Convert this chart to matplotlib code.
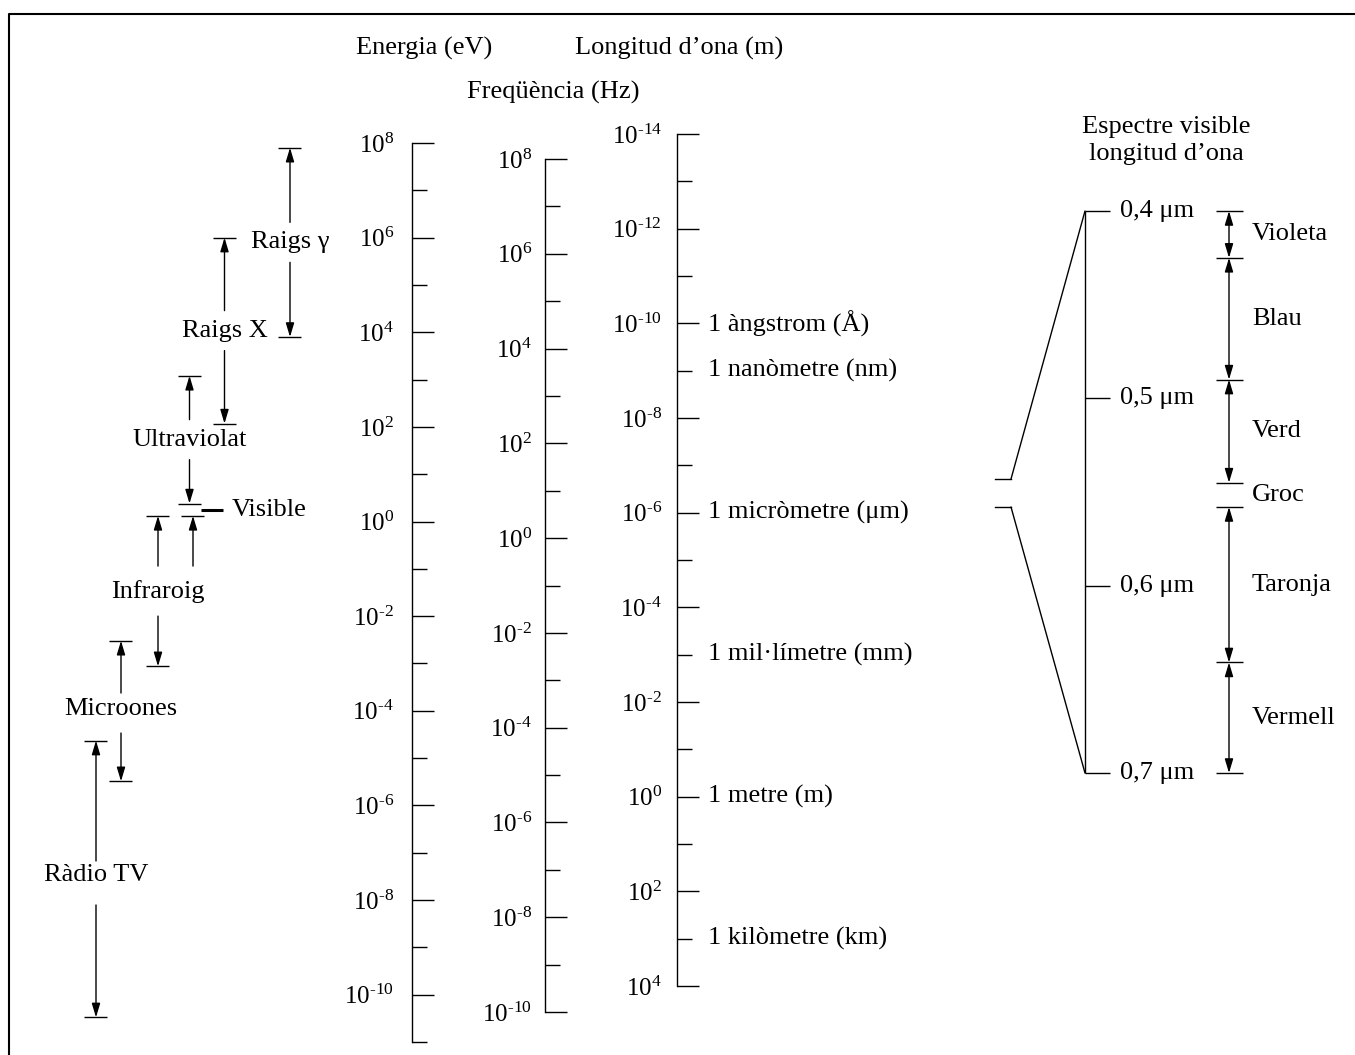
import matplotlib
matplotlib.use("Agg")
import numpy as np
import matplotlib.pyplot as plt
from matplotlib.patches import ConnectionPatch
from matplotlib.ticker import FixedLocator, FuncFormatter, NullFormatter

plt.rcParams["font.family"] = ["Liberation Serif", "DejaVu Serif"]
plt.rcParams["mathtext.fontset"] = "custom"
plt.rcParams["mathtext.rm"] = "Liberation Serif"
plt.rcParams["mathtext.it"] = "Liberation Serif:italic"
plt.rcParams["mathtext.bf"] = "Liberation Serif:bold"

# scales, as exponents of 10
energy_major = [8, 6, 4, 2, 0, -2, -4, -6, -8, -10]
energy_minor = [7, 5, 3, 1, -1, -3, -5, -7, -9, -11]
freq_major = [8, 6, 4, 2, 0, -2, -4, -6, -8, -10]
freq_minor = [7, 5, 3, 1, -1, -3, -5, -7, -9]
wave_major = [-14, -12, -10, -8, -6, -4, -2, 0, 2, 4]
wave_minor = [-13, -11, -9, -7, -5, -3, -1, 1, 3]

unit_names = ["1 àngstrom (Å)", "1 nanòmetre (nm)", "1 micròmetre (μm)",
              "1 mil·límetre (mm)", "1 metre (m)", "1 kilòmetre (km)"]
unit_exp = [-10, -9, -6, -3, 0, 3]

# regions of the spectrum, log10(energia / eV)
band_names = ["Raigs γ", "Raigs X", "Ultraviolat", "Infraroig", "Microones", "Ràdio TV"]
band_hi = [7.9, 6.0, 3.08, 0.12, -2.52, -4.63]
band_lo = [3.9, 2.07, 0.38, -3.06, -5.49, -10.48]
visible_hi = 0.38
visible_lo = 0.12

# visible spectrum, longitud d'ona in um
vis_ticks = [0.4, 0.5, 0.6, 0.7]
vis_labels = ["0,4 μm", "0,5 μm", "0,6 μm", "0,7 μm"]
colour_names = ["Violeta", "Blau", "Verd", "Groc", "Taronja", "Vermell"]
colour_edges = [0.40, 0.425, 0.49, 0.545, 0.558, 0.641, 0.70]

# layout, in pixels of the 1355x1055 picture
W, H = 1355, 1055
band_x = [290, 224.5, 189.5, 158, 121, 96]
band_gap = [20, 20, 20, 25, 20, 22]
label_shift = [0, 0, 0, 0, -2, -4]
visible_x = 193
PX = 0.72  # points per pixel at dpi 100
FS = 19

head = "-|>,head_length=0.6,head_width=0.18"
head2 = "<|-|>,head_length=0.6,head_width=0.18"


def px_rect(left, top, width, bottom):
    return [left / W, (H - bottom) / H, width / W, (bottom - top) / H]


def power_label(v, pos):
    e = round(np.log10(v))
    if e < 0:
        return r"$\mathdefault{10^{\text{-}%d}}$" % -e
    return r"$\mathdefault{10^{%d}}$" % e


def log_scale(left, top, bottom, lim, major, minor, pad):
    ax = fig.add_axes(px_rect(left, top, 40, bottom))
    ax.set_facecolor("none")
    ax.set_yscale("log")
    ax.set_ylim(10.0 ** lim[0], 10.0 ** lim[1])
    ax.yaxis.set_major_locator(FixedLocator([10.0 ** e for e in major]))
    ax.yaxis.set_major_formatter(FuncFormatter(power_label))
    ax.yaxis.set_minor_locator(FixedLocator([10.0 ** e for e in minor]))
    ax.yaxis.set_minor_formatter(NullFormatter())
    ax.tick_params(axis="y", which="major", direction="in", length=22 * PX,
                   width=1, pad=pad * PX, labelsize=18)
    ax.tick_params(axis="y", which="minor", direction="in", length=15 * PX, width=1)
    ax.set_xticks([])
    for side in ["top", "right", "bottom"]:
        ax.spines[side].set_visible(False)
    ax.spines["left"].set_linewidth(1)
    return ax


fig = plt.figure(figsize=(W / 100, H / 100), dpi=100)

# background layer in pixels: frame and headings
bg = fig.add_axes([0, 0, 1, 1])
bg.set_xlim(0, W)
bg.set_ylim(H, 0)
bg.axis("off")
bg.plot([9, 9, W], [H, 14, 14], color="k", lw=1.5)
bg.text(424, 55, "Energia (eV)", ha="center", va="baseline", fontsize=FS)
bg.text(679, 55, "Longitud d’ona (m)", ha="center", va="baseline", fontsize=FS)
bg.text(553, 99, "Freqüència (Hz)", ha="center", va="baseline", fontsize=FS)
bg.text(1166, 133, "Espectre visible", ha="center", va="baseline", fontsize=FS)
bg.text(1166, 160, "longitud d’ona", ha="center", va="baseline", fontsize=FS)

# the three log scales
ax_e = log_scale(412, 143, 1042, (-11, 8), energy_major, energy_minor, 18)
ax_f = log_scale(545, 159, 1012, (-10, 8), freq_major, freq_minor, 13)
ax_w = log_scale(677, 134, 986, (4, -14), wave_major, wave_minor, 15)

for name, e in zip(unit_names, unit_exp):
    ax_w.annotate(name, xy=(0, 10.0 ** e), xycoords=("axes fraction", "data"),
                  xytext=(31 * PX, 0), textcoords="offset points",
                  ha="left", va="center", fontsize=FS)

# regions, placed on the energy scale
ax_b = fig.add_axes(px_rect(0, 143, 412, 1042))
ax_b.set_facecolor("none")
ax_b.set_yscale("log")
ax_b.set_ylim(1e-11, 1e8)
ax_b.set_xlim(0, 412)
ax_b.axis("off")

half = 11.5
for name, hi, lo, x, gap, dy in zip(band_names, band_hi, band_lo, band_x,
                                    band_gap, label_shift):
    ax_b.hlines([10.0 ** hi, 10.0 ** lo], x - half, x + half, color="k", lw=1, clip_on=False)
    mid = 10.0 ** ((hi + lo) / 2)
    ax_b.annotate(name, xy=(x, mid), xytext=(0, -dy * PX), textcoords="offset points",
                  ha="center", va="center", fontsize=FS)
    for end in (hi, lo):
        ax_b.annotate("", xy=(x, 10.0 ** end), xytext=(x, mid),
                      arrowprops=dict(arrowstyle=head, color="k", lw=1,
                                      shrinkA=(gap + (dy if end == hi else -dy)) * PX,
                                      shrinkB=0, mutation_scale=14))

# visible slot between ultraviolet and infrared
ax_b.hlines(10.0 ** visible_lo, visible_x - half, visible_x + half, color="k", lw=1)
ir = band_names.index("Infraroig")
ir_mid = 10.0 ** ((band_hi[ir] + band_lo[ir]) / 2)
ax_b.annotate("", xy=(visible_x, 10.0 ** visible_lo), xytext=(visible_x, ir_mid),
              arrowprops=dict(arrowstyle=head, color="k", lw=1,
                              shrinkA=band_gap[ir] * PX, shrinkB=0, mutation_scale=14))
vis_mid = 10.0 ** ((visible_hi + visible_lo) / 2)
ax_b.hlines(vis_mid, 201, 223, color="k", lw=2.2)
ax_b.text(232, vis_mid, "Visible", ha="left", va="center", fontsize=FS)

# visible spectrum detail
ax_v = fig.add_axes(px_rect(990, 211, W - 990, 773))
ax_v.set_facecolor("none")
ax_v.set_xlim(990, W)
ax_v.set_ylim(vis_ticks[-1], vis_ticks[0])
ax_v.axis("off")

line_x = 1085
ax_v.vlines(line_x, vis_ticks[0], vis_ticks[-1], color="k", lw=1, clip_on=False)
ax_v.hlines(vis_ticks, line_x, line_x + 25, color="k", lw=1, clip_on=False)
for t, lab in zip(vis_ticks, vis_labels):
    ax_v.text(1120, t, lab, ha="left", va="center", fontsize=FS)

ax_v.hlines(colour_edges, 1216, 1243, color="k", lw=1, clip_on=False)
for i, name in enumerate(colour_names):
    a, b = colour_edges[i], colour_edges[i + 1]
    if name != "Groc":
        ax_v.annotate("", xy=(1229, a), xytext=(1229, b), annotation_clip=False,
                      arrowprops=dict(arrowstyle=head2, color="k", lw=1,
                                      shrinkA=0, shrinkB=0, mutation_scale=14))
    ax_v.text(1252, (a + b) / 2, name, ha="left", va="center", fontsize=FS)

# fan from the wavelength scale to the detail
for stub_y, end in [(479, vis_ticks[0]), (507, vis_ticks[-1])]:
    bg.plot([995, 1011], [stub_y, stub_y], color="k", lw=1)
    fig.add_artist(ConnectionPatch(xyA=(1011, stub_y), coordsA=bg.transData,
                                   xyB=(line_x, end), coordsB=ax_v.transData,
                                   color="k", lw=1))

fig.savefig("out.png", dpi=100, facecolor="white")
